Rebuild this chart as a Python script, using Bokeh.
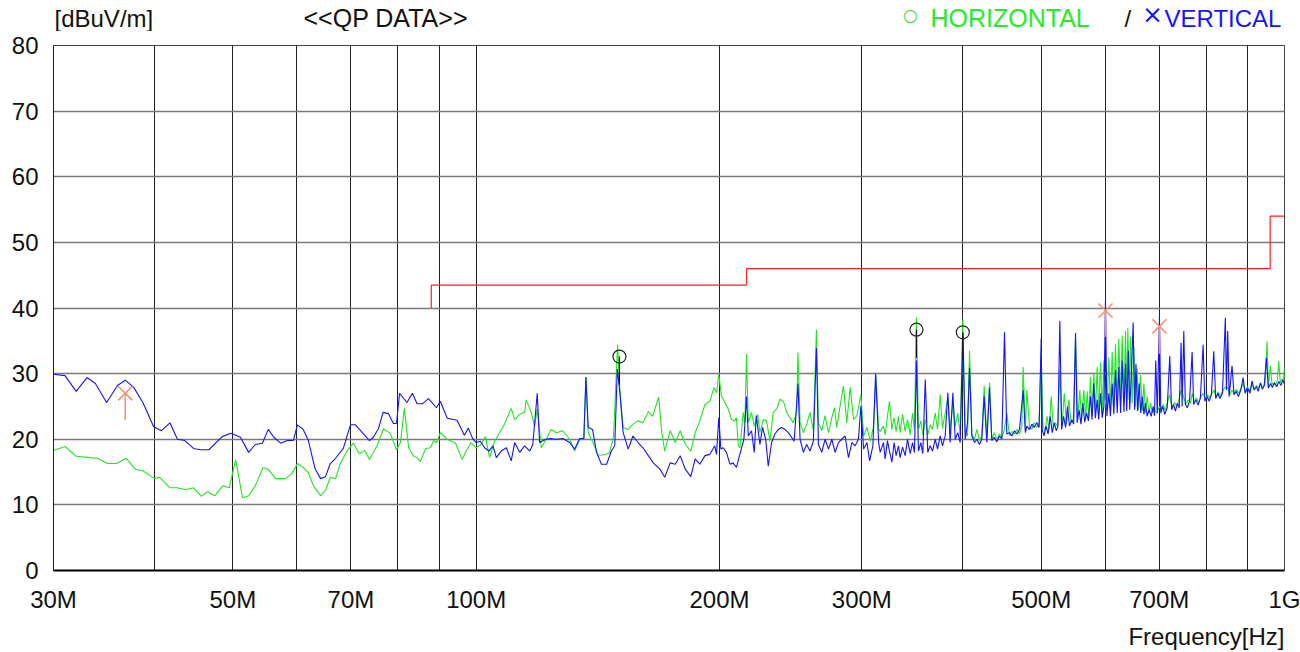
from bokeh.plotting import figure
from bokeh.models import FixedTicker, Range1d
from bokeh.layouts import column
from bokeh.core.properties import value
from bokeh.embed import file_html
from bokeh.resources import INLINE

FONT = "Liberation Sans"

# ---- axes ----
Y_TICKS = [0, 10, 20, 30, 40, 50, 60, 70, 80]
X_GRID = [30, 40, 50, 60, 70, 80, 90, 100, 200, 300, 400, 500, 600, 700, 800, 900, 1000]
X_LABELS = {30: "30M", 50: "50M", 70: "70M", 100: "100M", 200: "200M",
            300: "300M", 500: "500M", 700: "700M", 1000: "1G"}

# ---- limit line (MHz, dBuV/m) ----
LIMIT_F = [88, 88, 216, 216, 960, 960, 1000]
LIMIT_DB = [40, 43.5, 43.5, 46, 46, 54, 54]

# ---- HORIZONTAL trace (MHz, dBuV/m) ----
H_LOW = [(30.0, 18.3), (31.0, 18.9), (32.0, 17.4), (33.3, 17.2), (34.0, 17.1), (35.0, 16.3), (35.9, 16.3),
         (36.9, 17.1), (37.9, 15.4), (38.7, 15.2), (40.0, 14.0), (40.6, 14.2), (41.8, 12.6), (42.7, 12.6),
         (43.7, 12.3), (44.7, 12.6), (45.7, 11.3), (46.5, 12.0), (47.5, 11.4), (48.6, 12.9), (49.5, 12.6),
         (50.4, 16.9), (51.4, 11.1), (52.3, 11.4), (53.3, 12.9), (54.5, 15.7), (55.3, 15.4), (56.5, 14.0),
         (58.1, 14.0), (59.2, 14.8), (60.1, 16.3), (61.1, 15.7), (62.0, 14.9), (62.9, 12.9), (64.2, 11.4),
         (65.1, 12.2), (66.0, 14.2), (67.0, 14.0), (67.9, 16.3), (69.3, 18.3), (70.5, 19.4), (71.7, 17.8),
         (72.8, 18.3), (73.8, 16.9), (75.4, 19.0), (76.8, 21.6), (78.3, 20.9), (79.7, 18.4), (80.6, 19.5),
         (81.5, 24.7), (82.5, 18.7), (83.6, 17.5), (84.5, 17.2), (85.3, 16.6), (86.6, 18.6), (87.8, 18.7),
         (88.6, 19.8), (89.3, 19.5), (90.3, 21.0), (92.1, 20.0), (94.3, 19.4), (96.1, 16.9), (97.2, 18.2),
         (98.6, 19.5)]
H_100 = [(100.0, 18.7), (101.4, 19.2), (102.7, 20.4), (103.9, 17.2), (105.4, 19.7), (106.9, 21.0),
         (108.4, 22.3), (110.5, 24.7), (111.6, 23.0), (113.2, 23.8), (114.8, 24.1), (115.3, 26.0),
         (117.0, 24.1), (118.1, 22.0), (119.0, 24.6), (120.4, 18.7), (122.1, 20.0), (123.8, 21.5),
         (125.7, 21.0), (128.0, 21.3), (130.5, 20.0), (132.4, 18.2), (134.3, 20.0), (135.9, 20.0),
         (136.7, 29.5), (137.6, 21.0), (139.5, 19.5), (141.5, 17.6), (143.6, 17.6), (146.2, 17.9),
         (147.9, 20.5), (149.6, 34.4), (150.6, 27.4), (152.0, 21.8), (154.2, 21.5), (156.3, 22.3),
         (158.6, 22.8), (160.8, 22.5), (163.3, 24.2), (165.3, 23.5), (168.2, 26.4), (169.7, 21.0),
         (171.1, 18.2), (173.8, 21.3), (176.3, 19.5), (178.8, 21.3), (181.5, 19.2), (184.3, 18.2),
         (186.6, 21.0), (189.1, 22.8), (191.9, 25.3), (194.6, 25.8), (196.9, 27.9), (198.4, 27.1),
         (199.6, 29.9)]
H_200 = [(201.1, 26.6), (203.1, 25.6), (205.0, 24.6), (207.0, 23.0), (208.9, 22.8), (209.9, 23.3),
         (211.0, 19.0), (212.0, 18.7), (214.0, 24.1), (215.0, 22.5), (216.0, 33.0), (217.1, 22.5),
         (219.1, 24.1), (220.8, 22.0), (223.0, 23.8), (224.4, 21.0), (226.6, 23.0), (228.7, 22.8),
         (230.9, 19.7), (233.1, 24.1), (235.4, 24.6), (237.6, 26.1), (239.9, 25.8), (242.2, 24.1),
         (244.5, 23.3), (246.8, 22.5), (249.2, 24.1), (250.1, 33.2), (251.6, 22.5), (254.0, 21.0),
         (256.4, 22.3), (258.8, 24.1), (261.3, 21.3), (263.6, 36.7), (265.1, 22.5), (267.6, 21.3),
         (270.2, 23.6), (272.8, 21.0), (275.4, 23.3), (277.5, 24.8), (279.3, 21.8), (282.0, 25.1),
         (284.7, 28.1), (287.4, 22.5), (290.2, 27.9), (293.0, 23.0), (295.8, 23.6), (299.2, 26.8),
         (301.5, 20.5), (304.4, 21.8), (307.3, 19.7), (310.2, 22.0), (312.3, 29.6), (314.7, 21.5)]
H_300 = [(316.1, 21.2), (319.1, 22.0), (320.6, 20.7), (322.7, 23.5), (324.6, 25.8), (326.8, 21.5),
         (328.9, 23.3), (330.8, 21.2), (333.0, 23.5), (334.6, 21.0), (336.9, 23.8), (339.4, 21.2),
         (341.7, 23.0), (344.3, 20.7), (346.6, 24.0), (348.5, 21.5), (350.5, 38.6), (352.5, 21.5),
         (354.9, 22.8), (356.9, 20.7), (359.6, 23.0), (362.0, 20.7), (364.5, 22.2), (366.9, 21.5),
         (369.7, 24.0), (372.2, 21.5), (375.0, 26.8), (377.5, 21.7), (380.4, 24.0), (383.3, 26.3),
         (385.8, 21.5), (388.8, 25.6), (391.4, 22.0), (394.3, 24.0), (397.0, 20.7)]
H_400 = [(400.0, 38.3), (402.7, 21.0), (405.4, 20.5), (407.7, 33.5), (410.4, 20.8), (413.5, 20.0),
         (416.3, 21.5), (419.4, 19.8), (422.2, 20.5), (425.1, 28.1), (428.3, 20.2), (431.6, 28.6),
         (434.4, 20.0), (437.3, 21.0), (440.7, 20.0), (444.0, 20.8), (447.0, 20.3), (450.4, 21.5),
         (453.4, 24.0), (456.9, 20.5), (459.9, 21.2), (463.4, 20.8), (466.5, 21.5), (470.1, 20.8),
         (473.2, 22.0), (475.0, 31.0), (478.0, 21.5), (480.0, 27.5), (483.7, 21.8), (486.9, 21.5),
         (490.1, 22.5), (493.9, 21.8), (497.1, 22.5)]
H_500 = [(500.0, 33.2), (502.5, 22.0), (505.5, 21.3), (508.5, 23.5), (511.5, 21.5), (514.5, 26.5),
         (517.5, 21.8), (520.5, 22.5), (524.0, 22.0), (527.3, 30.5), (530.5, 22.0), (534.0, 27.0),
         (537.5, 22.3), (541.0, 26.0), (544.5, 22.5), (548.0, 23.0), (551.4, 35.2), (554.5, 22.8),
         (558.2, 27.5), (561.0, 23.0), (564.6, 27.5), (567.5, 23.0), (570.0, 27.3), (572.5, 23.3),
         (575.4, 29.5), (578.0, 23.5), (580.9, 30.2), (583.5, 23.8), (586.5, 31.0), (589.0, 24.0),
         (592.1, 31.7), (595.0, 24.0), (597.8, 32.0), (600.0, 26.0), (603.0, 24.3), (606.4, 32.5),
         (609.0, 24.5), (612.1, 33.3), (615.0, 25.0), (617.9, 34.5), (621.0, 25.0), (623.8, 35.3),
         (627.0, 25.5), (629.8, 35.8), (633.0, 25.8), (635.8, 36.5), (638.0, 26.0), (640.0, 37.0),
         (642.5, 26.0), (645.0, 35.6), (648.0, 25.5), (651.1, 34.0), (654.0, 25.0), (657.3, 30.8),
         (660.0, 24.5), (663.6, 29.8), (667.0, 24.3), (669.9, 28.5), (673.0, 24.0), (676.2, 26.5),
         (680.0, 24.0), (683.0, 25.5), (685.9, 24.0), (690.0, 24.5), (695.7, 24.0), (700.0, 25.0)]
H_700 = [(703, 24.6), (708, 25.3), (712, 24.4), (716, 25.5), (721, 26.8), (726, 24.8), (731, 25.6),
         (736, 25.0), (740, 26.0), (745, 27.5), (750, 26.5), (755, 25.3), (760, 26.0), (765, 25.5),
         (769, 27.0), (773, 25.8), (778, 26.3), (783, 25.6), (788, 26.5), (793, 27.0), (798, 26.0),
         (803, 26.8), (808, 26.2), (813, 27.0), (818, 27.5), (823, 26.4), (828, 27.2), (833, 26.6),
         (838, 27.3), (845, 28.0), (851, 27.8), (856, 26.8), (861, 27.5), (866, 27.0), (872, 27.6),
         (878, 27.0), (884, 27.8), (889, 28.5), (894, 27.3), (900, 28.0), (906, 27.4), (912, 28.3),
         (918, 27.6), (923, 28.2), (929, 27.8), (934, 28.5), (940, 27.9), (946, 28.4), (951.5, 34.9),
         (955, 28.0), (960.6, 31.2), (965, 28.3), (970, 28.6), (975, 28.2), (980, 29.0), (983.7, 31.9),
         (988, 28.6), (993, 29.2), (997, 28.8), (999.7, 30.9), (1000, 29.0)]

# ---- VERTICAL trace (MHz, dBuV/m) ----
V_LOW = [(30.0, 29.9), (31.0, 29.7), (32.0, 27.3), (33.0, 29.4), (33.8, 28.5), (34.9, 25.6), (36.0, 28.2),
         (36.8, 29.0), (37.7, 27.9), (38.7, 25.6), (39.9, 21.9), (40.8, 21.3), (41.8, 22.5), (42.7, 20.0),
         (43.6, 19.8), (44.7, 18.6), (45.6, 18.4), (46.7, 18.4), (48.5, 20.4), (49.7, 20.9), (51.1, 20.3),
         (52.3, 18.0), (53.3, 19.2), (54.4, 19.4), (55.3, 21.5), (56.2, 20.3), (57.3, 19.4), (58.4, 19.8),
         (59.4, 19.8), (60.1, 22.2), (61.1, 21.5), (62.0, 19.8), (63.2, 15.5), (64.2, 14.0), (65.1, 14.3),
         (66.0, 16.3), (67.0, 17.1), (68.5, 18.6), (69.9, 22.2), (70.9, 22.2), (72.3, 21.0), (73.8, 19.8),
         (74.6, 20.3), (75.7, 21.6), (76.7, 24.1), (77.9, 23.9), (79.0, 22.4), (79.7, 22.4), (80.4, 27.0),
         (82.1, 25.6), (83.4, 27.0), (84.5, 25.4), (85.8, 25.4), (87.3, 26.2), (89.3, 24.8), (90.3, 25.8),
         (92.1, 23.2), (94.7, 22.9), (96.7, 20.6), (97.8, 21.7), (99.0, 20.1)]
V_100 = [(100.0, 19.5), (101.2, 19.7), (102.4, 18.7), (103.7, 18.2), (104.9, 19.0), (105.9, 17.2),
         (107.4, 18.2), (109.0, 18.7), (110.5, 16.7), (111.6, 19.5), (113.2, 18.0), (114.8, 19.0),
         (116.5, 18.2), (117.5, 19.2), (119.0, 27.0), (119.8, 19.5), (121.9, 20.0), (123.5, 20.1),
         (125.7, 20.0), (128.0, 20.1), (130.5, 19.5), (132.4, 18.5), (134.3, 20.1), (135.9, 20.1),
         (136.7, 29.5), (137.6, 21.8), (139.3, 21.5), (140.9, 18.0), (142.9, 16.2), (145.0, 16.2),
         (147.0, 18.2), (148.4, 19.0), (149.5, 30.7), (150.6, 27.1), (152.0, 21.0), (154.2, 18.5),
         (156.3, 20.5), (158.6, 19.5), (160.8, 18.7), (163.3, 17.5), (165.6, 16.4), (168.9, 15.4),
         (171.1, 14.2), (173.8, 16.4), (176.3, 16.2), (178.8, 17.5), (181.5, 15.4), (184.3, 14.3),
         (186.6, 17.0), (189.1, 16.2), (191.9, 17.5), (194.6, 17.7), (197.3, 19.0), (198.3, 17.7),
         (199.6, 23.3)]
V_200 = [(200.8, 18.5), (202.1, 18.7), (204.0, 18.0), (206.0, 16.2), (207.9, 16.4), (209.9, 15.7),
         (211.2, 17.0), (212.8, 18.5), (214.4, 20.0), (216.0, 26.5), (217.1, 20.5), (219.1, 21.3),
         (220.8, 18.0), (222.1, 23.6), (224.4, 19.2), (226.1, 21.8), (228.1, 20.0), (229.8, 15.9),
         (232.0, 19.5), (234.2, 20.8), (236.5, 21.5), (238.7, 21.8), (241.0, 21.5), (243.3, 21.0),
         (245.6, 20.3), (247.4, 19.7), (250.1, 28.5), (251.6, 20.0), (254.0, 18.0), (256.4, 19.2),
         (258.8, 18.2), (261.3, 19.7), (263.6, 33.9), (265.1, 19.2), (267.6, 18.0), (270.2, 20.0),
         (272.8, 18.5), (275.4, 20.0), (278.0, 18.0), (280.7, 19.5), (283.3, 20.0), (286.0, 20.5),
         (288.8, 17.2), (291.6, 19.5), (294.3, 19.0), (297.1, 20.0), (299.2, 25.1), (301.5, 18.5),
         (304.4, 19.5), (306.7, 16.7), (309.6, 19.0), (312.0, 30.0), (314.7, 19.5)]
V_300 = [(316.1, 18.0), (319.1, 19.5), (320.6, 17.0), (322.7, 19.8), (324.6, 18.2), (326.8, 16.5),
         (328.9, 19.5), (330.8, 17.5), (333.0, 19.0), (334.6, 17.2), (336.9, 18.8), (339.4, 17.5),
         (341.7, 20.0), (344.3, 17.8), (346.6, 19.5), (348.5, 18.0), (350.5, 32.0), (352.5, 18.2),
         (354.9, 19.5), (356.9, 17.8), (359.4, 29.1), (362.0, 18.0), (364.5, 19.0), (366.9, 18.2),
         (369.7, 20.0), (372.2, 18.5), (375.0, 20.5), (377.5, 19.0), (380.4, 20.5), (383.3, 27.1),
         (385.8, 19.5), (388.8, 27.1), (391.4, 20.0), (394.3, 21.0), (397.0, 19.5)]
V_400 = [(400.0, 36.0), (402.7, 20.0), (405.4, 22.5), (407.7, 30.9), (410.4, 20.5), (413.5, 19.5),
         (416.3, 20.0), (419.4, 19.2), (422.2, 20.0), (425.1, 26.6), (428.3, 19.5), (431.6, 27.9),
         (434.4, 19.8), (437.3, 20.3), (440.7, 19.6), (444.0, 20.5), (447.0, 20.0), (450.4, 36.3),
         (453.4, 20.8), (456.9, 21.0), (459.9, 20.5), (463.4, 21.3), (466.5, 20.8), (470.1, 21.5),
         (475.0, 27.5), (478.0, 21.0), (480.0, 22.0), (483.7, 21.5), (486.9, 22.3), (490.1, 21.8),
         (493.9, 22.5), (497.1, 21.8), (500.0, 35.4)]
V_500 = [(501.4, 21.5), (504.0, 20.5), (507.0, 22.0), (510.0, 20.8), (513.0, 23.5), (516.0, 21.0),
         (519.0, 22.5), (522.0, 21.3), (524.5, 22.0), (527.3, 38.0), (530.0, 21.5), (533.0, 23.5),
         (536.0, 21.8), (539.0, 25.0), (542.0, 22.0), (545.4, 23.0), (548.5, 22.3), (551.4, 36.2),
         (554.0, 22.5), (557.0, 24.5), (560.0, 22.3), (563.0, 25.5), (566.0, 22.6), (569.0, 24.0),
         (572.0, 22.8), (575.4, 26.5), (578.0, 23.0), (580.9, 28.5), (583.5, 23.2), (586.5, 26.0),
         (589.0, 23.0), (592.1, 27.0), (595.0, 23.3), (597.8, 25.0), (600.5, 41.2), (603.0, 23.5),
         (606.4, 27.0), (609.0, 23.5), (612.1, 28.5), (615.0, 23.8), (617.9, 30.5), (621.0, 24.0),
         (623.8, 31.0), (627.0, 24.0), (629.8, 32.0), (633.0, 24.2), (635.8, 31.5), (638.0, 24.3),
         (641.0, 33.5), (643.5, 24.5), (646.5, 30.0), (649.8, 37.8), (652.5, 24.5), (655.0, 31.5),
         (658.0, 24.3), (661.0, 28.5), (664.0, 24.0), (667.0, 26.5), (670.0, 23.8), (673.0, 25.5),
         (676.2, 23.5), (680.0, 24.5), (684.0, 23.5), (688.0, 25.0), (690.5, 23.6), (693.0, 32.0),
         (696.0, 24.0), (700.3, 38.7)]
V_700 = [(703, 24.0), (707, 25.0), (711, 23.8), (716, 24.8), (721.2, 32.7), (725, 24.5), (729, 25.3),
         (733, 24.3), (737, 25.5), (741, 24.8), (744.9, 34.7), (747, 25.0), (750.6, 36.5), (754, 25.3),
         (758, 24.8), (763, 25.8), (768.6, 33.3), (772, 25.3), (777, 26.0), (782, 25.2), (787, 26.3),
         (793.0, 34.4), (797, 25.8), (802, 26.5), (807, 25.8), (812, 26.8), (817.5, 33.4), (822, 26.2),
         (827, 27.0), (832, 26.2), (838, 27.0), (845.0, 38.5), (847.5, 27.5), (850.7, 36.5), (854, 26.5),
         (861.2, 31.2), (866, 26.8), (872, 27.3), (877, 26.5), (883, 27.5), (888.7, 29.4), (894, 27.0),
         (900, 27.8), (906, 27.0), (911.8, 28.9), (917, 27.5), (923, 28.0), (928, 27.3), (933.6, 28.6),
         (939, 27.6), (944, 28.2), (949.7, 32.4), (955, 27.8), (961, 28.5), (966, 27.9), (972, 28.6),
         (978, 28.0), (984, 28.8), (990, 28.2), (995, 29.0), (1000, 28.4)]

# ---- QP markers ----
H_MARK_F = [150.4, 350.5, 400.0]
H_MARK_QP = [32.6, 36.7, 36.3]
H_MARK_LOW = [28.3, 32.4, 32.0]
V_MARK_F = [36.8, 600.5, 700.3]
V_MARK_QP = [27.0, 39.6, 37.2]
V_MARK_LOW = [22.9, 35.6, 33.0]

GREEN = "#22E622"
BLUE = "#1515FF"
ORANGE = "#F7906E"

# frame spans page x 53..1284 (columns align plot frames)
FRAME_L, FRAME_R = 53, 1284


def unzip(*segments):
    pts = [pt for seg in segments for pt in seg]
    return [a for a, _ in pts], [b for _, b in pts]


h_f, h_db = unzip(H_LOW, H_100, H_200, H_300, H_400, H_500, H_700)
v_f, v_db = unzip(V_LOW, V_100, V_200, V_300, V_400, V_500, V_700)


def text_strip(height):
    """A borderless strip for the free texts above and below the plot (pixel-like coordinates)."""
    s = figure(width=1300, height=height, x_range=Range1d(FRAME_L, FRAME_R), y_range=Range1d(height, 0),
               output_backend="svg", toolbar_location=None,
               min_border_left=FRAME_L, min_border_right=1300 - FRAME_R, min_border_top=0, min_border_bottom=0)
    s.axis.visible = False
    s.grid.visible = False
    s.outline_line_color = None
    s.title.visible = False
    return s


def put(s, txt, x, y, color="#111111", size="24px", align="left", font=FONT):
    s.text(x=[x], y=[y], text=[txt], text_font=value(font), text_font_size=value(size),
           text_color=color, text_align=value(align), text_baseline=value("middle"))


# ---- header ----
HEAD_H = 31
head = text_strip(HEAD_H)
put(head, "[dBuV/m]", 54, 17.6)
put(head, "<<QP DATA>>", 303, 17.6, size="25px")
put(head, "\u25CB", 910, 14, color=GREEN, size="17px", align="center", font="DejaVu Sans")
put(head, "HORIZONTAL", 930, 17.6, color="#22EE22", size="25px")
put(head, "/", 1124, 17.6)
put(head, "\u00D7", 1152, 14, color=BLUE, size="25px", align="center", font="DejaVu Sans")
put(head, "VERTICAL", 1164, 17.6, color=BLUE)

# ---- main plot ----
p = figure(width=1300, height=618 - HEAD_H, x_axis_type="log",
           x_range=Range1d(30, 1000), y_range=Range1d(0, 80),
           output_backend="svg", toolbar_location=None,
           min_border_left=FRAME_L, min_border_right=1300 - FRAME_R,
           min_border_top=45 - HEAD_H, min_border_bottom=48)
p.title.visible = False
p.outline_line_color = "#444444"
p.outline_line_width = 1

p.xaxis.ticker = FixedTicker(ticks=X_GRID)
p.xaxis.major_label_overrides = {t: X_LABELS.get(t, "") for t in X_GRID}
p.yaxis.ticker = FixedTicker(ticks=Y_TICKS)
for ax in (p.xaxis, p.yaxis):
    ax.major_tick_line_color = None
    ax.minor_tick_line_color = None
    ax.major_tick_out = 0
    ax.major_tick_in = 0
    ax.minor_tick_out = 0
    ax.minor_tick_in = 0
    ax.major_label_text_font = FONT
    ax.major_label_text_font_size = "24px"
    ax.major_label_text_color = "#111111"
    ax.major_label_standoff = 15
p.xaxis.axis_line_color = "#000000"
p.xaxis.axis_line_width = 2
p.yaxis.axis_line_color = "#222222"
p.yaxis.axis_line_width = 1

p.xgrid.grid_line_color = "#222222"
p.xgrid.grid_line_width = 1
p.ygrid.grid_line_color = "#7a7a7a"
p.ygrid.grid_line_width = 1.5

p.line(LIMIT_F, LIMIT_DB, line_color="#FF2020", line_width=1.2)
p.line(h_f, h_db, line_color=GREEN, line_width=1.1)
p.line(v_f, v_db, line_color=BLUE, line_width=1.1)

p.segment(x0=H_MARK_F, y0=H_MARK_LOW, x1=H_MARK_F, y1=H_MARK_QP, line_color="#111111", line_width=1.2)
p.scatter(H_MARK_F, H_MARK_QP, marker="circle", size=13, fill_color=None,
          line_color="#222222", line_width=1.2)
p.segment(x0=V_MARK_F, y0=V_MARK_LOW, x1=V_MARK_F, y1=V_MARK_QP, line_color=ORANGE, line_width=1.5)
p.scatter(V_MARK_F, V_MARK_QP, marker="x", size=20, line_color=ORANGE, line_width=1.6)

# ---- footer ----
foot = text_strip(34)
put(foot, "Frequency[Hz]", 1284, 18, align="right")

layout = column(head, p, foot, spacing=0)
open("out.html", "w").write(file_html(layout, INLINE))
